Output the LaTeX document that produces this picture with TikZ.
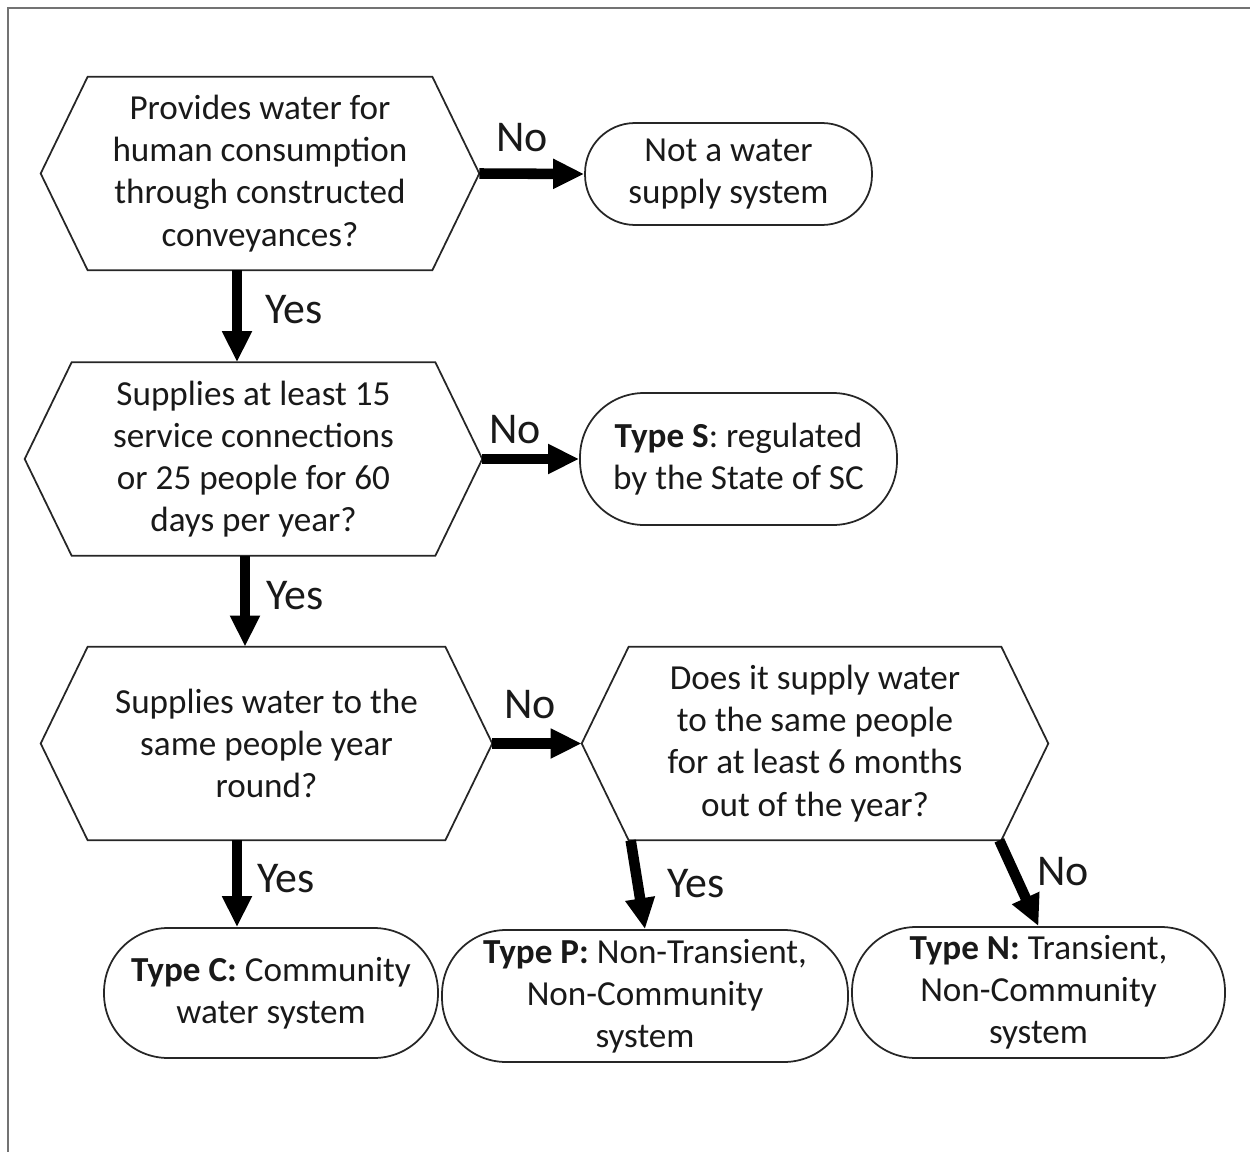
\documentclass[tikz,border=0pt]{standalone}
\usepackage{fontspec}
\setmainfont{Carlito}
\usetikzlibrary{positioning, arrows.meta}
\tikzset{
flow/.style={-{Triangle[length=0.62cm, width=0.56cm]}, line width=6pt}, % the thick black arrows
border/.style={line width=1pt, draw=black!85}, % outline of the hexagons
decision/.style={minimum height=3.86cm, inner sep=0pt, align=center, text=black!90, font=\fontsize{20}{24}\selectfont},
outcome/.style={border, draw, inner sep=0pt, align=center, text=black!90, font=\fontsize{20}{24}\selectfont},
answer/.style={inner sep=0pt, text=black!90, font=\fontsize{25}{30}\selectfont},
}
\begin{document}
\begin{tikzpicture}[x=0.02cm, y=-0.02cm]
        \useasboundingbox (0,0) rectangle (1250,1152);
        \draw[black!55, line width=0.8pt] (8,1152) -- (8,8) -- (1250,8);

        % questions
        \node[decision, minimum width=6.88cm] (q1) at (260,173.5) {Provides water for\\human consumption\\through constructed\\conveyances?};
        \node[decision, minimum width=7.26cm] (q2) at (253.5,459) {Supplies at least 15\\service connections\\or 25 people for 60\\days per year?};
        \node[decision, minimum width=7.14cm] (q3) at (266.5,743.5) {Supplies water to the\\same people year\\round?};
        \node[decision, minimum width=7.44cm] (q4) at (815,743.5) {Does it supply water\\to the same people\\for at least 6 months\\out of the year?};
        \foreach \n in {q1,q2,q3,q4} {
          \coordinate (\n e) at ([xshift=0.94cm]\n.east);
          \coordinate (\n w) at ([xshift=-0.94cm]\n.west);
          \draw[border] (\n.north west) -- (\n.north east) -- (\n e) -- (\n.south east) -- (\n.south west) -- (\n w) -- cycle;
        }

        % outcomes
        \node[outcome, minimum width=5.74cm, minimum height=2.04cm, rounded corners=1cm] (r1) at (728.5,174) {Not a water\\supply system};
        \node[outcome, minimum width=6.34cm, minimum height=2.64cm, rounded corners=1.28cm] (r2) at (738.5,459) {\textbf{Type S}: regulated\\by the State of SC};
        \node[outcome, minimum width=6.68cm, minimum height=2.6cm, rounded corners=1.28cm] (tc) at (271,993) {\textbf{Type C:} Community\\water system};
        \node[outcome, minimum width=8.12cm, minimum height=2.64cm, rounded corners=1.28cm] (tp) at (645,996) {\textbf{Type P:} Non-Transient,\\Non-Community\\system};
        \node[outcome, minimum width=7.46cm, minimum height=2.62cm, rounded corners=1.28cm] (tn) at (1038.5,992.5) {\textbf{Type N:} Transient,\\Non-Community\\system};

        % connectors
        \draw[flow] (q1e) -- (r1.west);
        \draw[flow] (q2e) -- (r2.west);
        \draw[flow] (q3e) -- (q4w);
        \draw[flow] ([xshift=-0.46cm]q1.south) -- ([xshift=-0.46cm]q1.south |- q2.north);
        \draw[flow] ([xshift=-0.17cm]q2.south) -- ([xshift=-0.17cm]q2.south |- q3.north);
        \draw[flow] ([xshift=-0.59cm]q3.south) -- ([xshift=-0.59cm]q3.south |- tc.north);
        \draw[flow] ([xshift=0.04cm]q4.south west) -- (tp.north);
        \draw[flow] ([xshift=-0.04cm]q4.south east) -- (tn.north);

        % answers
        \node[answer] (no1) at (522,138) {No};
        \node[answer] (no2) at (515,430) {No};
        \node[answer] (no3) at (530,705) {No};
        \node[answer, anchor=west] (no4) at (1037,872) {No};
        \node[answer, anchor=west] (yes1) at (265,310) {Yes};
        \node[answer, anchor=west] (yes2) at (266,596) {Yes};
        \node[answer, anchor=west] (yes3) at (257,879) {Yes};
        \node[answer, anchor=west] (yes4) at (667,884) {Yes};
\end{tikzpicture}
\end{document}
